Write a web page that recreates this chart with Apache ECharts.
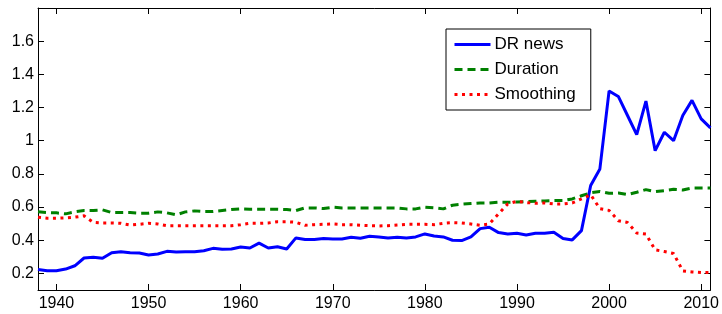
<!DOCTYPE html>
<html>
<head>
<meta charset="utf-8">
<script src="https://cdn.jsdelivr.net/npm/echarts@6/dist/echarts.min.js"></script>
<style>
* { margin: 0; padding: 0; }
body { background: #fff; }
#chart { width: 722px; height: 314px; }
</style>
</head>
<body>
<div id="chart"></div>
<script>
// years on the x axis
const years = [];
for (let y = 1938; y <= 2011; y++) years.push(y);

const xTicks = [1940, 1950, 1960, 1970, 1980, 1990, 2000, 2010];
const yTicks = [0.2, 0.4, 0.6, 0.8, 1.0, 1.2, 1.4, 1.6];

const seriesNames = ['DR news', 'Duration', 'Smoothing'];

const drNews = [
  0.224, 0.216,
  0.216, 0.226, 0.246, 0.293, 0.297, 0.291, 0.325, 0.331, 0.325, 0.323,
  0.311, 0.317, 0.333, 0.329, 0.331, 0.331, 0.337, 0.351, 0.345, 0.347,
  0.359, 0.353, 0.383, 0.353, 0.361, 0.347, 0.414, 0.404, 0.404, 0.410,
  0.408, 0.408, 0.418, 0.412, 0.424, 0.420, 0.414, 0.418, 0.414, 0.420,
  0.438, 0.426, 0.420, 0.400, 0.398, 0.420, 0.470, 0.478, 0.446, 0.438,
  0.442, 0.432, 0.442, 0.442, 0.448, 0.411, 0.402, 0.458, 0.730, 0.830,
  1.300, 1.267, 1.152, 1.037, 1.239, 0.940, 1.051, 1.000, 1.152, 1.243,
  1.132, 1.077
];

const duration = [
  0.571, 0.567,
  0.565, 0.559, 0.571, 0.579, 0.579, 0.583, 0.567, 0.567, 0.567, 0.563,
  0.563, 0.571, 0.565, 0.553, 0.571, 0.577, 0.573, 0.573, 0.579, 0.585,
  0.589, 0.587, 0.587, 0.587, 0.587, 0.585, 0.579, 0.595, 0.595, 0.591,
  0.599, 0.595, 0.595, 0.595, 0.595, 0.595, 0.595, 0.595, 0.589, 0.589,
  0.599, 0.595, 0.589, 0.611, 0.617, 0.621, 0.625, 0.625, 0.629, 0.629,
  0.631, 0.633, 0.635, 0.637, 0.639, 0.639, 0.649, 0.668, 0.686, 0.694,
  0.683, 0.685, 0.675, 0.689, 0.705, 0.693, 0.699, 0.707, 0.703, 0.715,
  0.715, 0.715
];

const smoothing = [
  0.539, 0.533,
  0.533, 0.535, 0.539, 0.547, 0.508, 0.504, 0.504, 0.502, 0.492, 0.496,
  0.502, 0.498, 0.488, 0.488, 0.488, 0.488, 0.488, 0.488, 0.488, 0.488,
  0.494, 0.502, 0.502, 0.504, 0.512, 0.512, 0.508, 0.490, 0.494, 0.496,
  0.498, 0.494, 0.494, 0.490, 0.488, 0.486, 0.488, 0.492, 0.496, 0.496,
  0.496, 0.494, 0.502, 0.506, 0.504, 0.498, 0.490, 0.498, 0.559, 0.619,
  0.635, 0.627, 0.623, 0.625, 0.619, 0.619, 0.625, 0.649, 0.675, 0.590,
  0.580, 0.518, 0.507, 0.443, 0.437, 0.342, 0.332, 0.320, 0.215, 0.209,
  0.205, 0.205
];

const font = '"Liberation Sans", Arial, sans-serif';

function pairs(vals) {
  return years.map(function (y, i) { return [y, vals[i]]; });
}

function boxAxis(pos, min, max, ticks, labels) {
  return {
    type: 'value',
    position: pos,
    min: min,
    max: max,
    axisLine: { show: true, onZero: false, lineStyle: { color: '#000', width: 1 } },
    axisTick: { show: true, inside: true, length: 6, customValues: ticks, lineStyle: { color: '#000' } },
    axisLabel: {
      show: labels,
      customValues: ticks,
      formatter: function (v) { return String(v); },
      color: '#000',
      fontSize: 16,
      fontFamily: font,
      margin: pos === 'bottom' ? 6 : 4
    },
    splitLine: { show: false }
  };
}

const chart = echarts.init(document.getElementById('chart'));
chart.setOption({
  animation: false,
  backgroundColor: '#fff',
  grid: { left: 38, right: 10, top: 8, bottom: 24, containLabel: false },
  legend: {
    data: seriesNames,
    orient: 'vertical',
    left: 446,
    top: 29,
    padding: [7, 15, 7, 7],
    itemWidth: 36,
    itemHeight: 14,
    itemGap: 8,
    itemStyle: { opacity: 0 },
    lineStyle: { width: 3 },
    borderColor: '#000',
    borderWidth: 1,
    borderRadius: 0,
    backgroundColor: '#fff',
    textStyle: { color: '#000', fontSize: 17, fontFamily: font, padding: [0, 0, 0, -1] }
  },
  xAxis: [
    boxAxis('bottom', 1938, 2011, xTicks, true),
    boxAxis('top', 1938, 2011, xTicks, false)
  ],
  yAxis: [
    boxAxis('left', 0.1, 1.8, yTicks, true),
    boxAxis('right', 0.1, 1.8, yTicks, false)
  ],
  series: [
    {
      name: seriesNames[0],
      type: 'line',
      symbol: 'none',
      data: pairs(drNews),
      lineStyle: { color: '#0000ff', width: 3 },
      itemStyle: { color: '#0000ff' }
    },
    {
      name: seriesNames[1],
      type: 'line',
      symbol: 'none',
      data: pairs(duration),
      lineStyle: { color: '#008000', width: 3, type: [8, 5] },
      itemStyle: { color: '#008000' }
    },
    {
      name: seriesNames[2],
      type: 'line',
      symbol: 'none',
      data: pairs(smoothing),
      lineStyle: { color: '#ff0000', width: 3, type: [3, 4.5] },
      itemStyle: { color: '#ff0000' }
    }
  ]
});
</script>
</body>
</html>
